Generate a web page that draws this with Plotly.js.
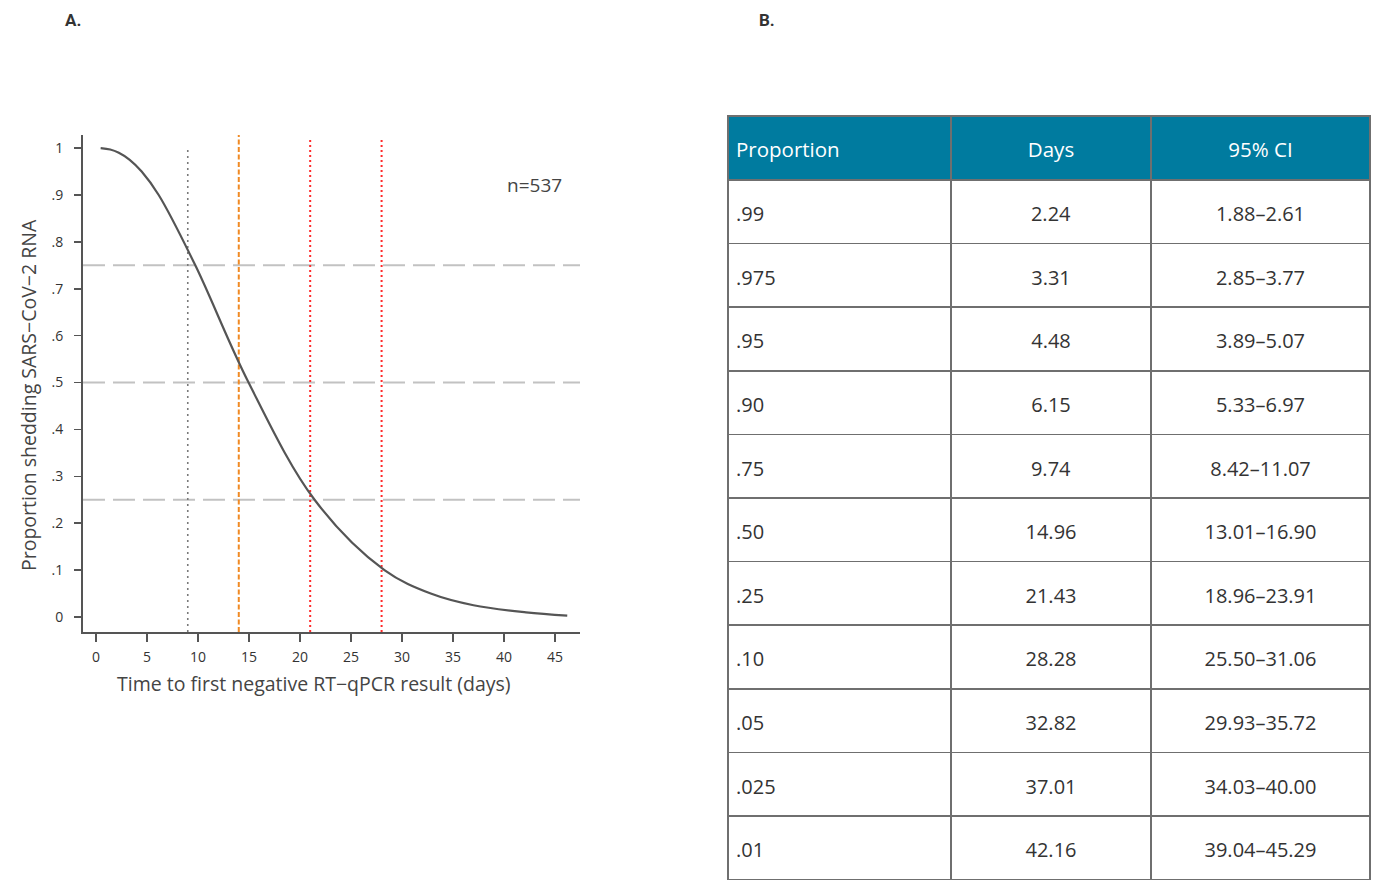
<!DOCTYPE html>
<html><head><meta charset="utf-8">
<script src="https://cdn.plot.ly/plotly-3.0.1.min.js"></script>
<style>html,body{margin:0;padding:0;background:#fff}</style>
</head><body><div id="chart" style="width:1375px;height:881px"></div>
<script>
const curveDays = [0.46, 1.4, 2.24, 3.31, 4.48, 6.15, 9.74, 14.96, 21.43, 28.28, 32.82, 37.01, 42.16, 46.2];
const curveProp = [1.0, 0.997, 0.99, 0.975, 0.95, 0.90, 0.75, 0.50, 0.25, 0.10, 0.05, 0.025, 0.01, 0.003];
// Reference lines
const refDays = [9, 14, 21, 28];
const refColors = ['#7a7a7a', '#f08a24', '#ff2a2a', '#ff2a2a'];
const refDash = ['2px,4px', '5px,2.5px', '2px,3px', '2px,3px'];
const refProps = [0.75, 0.50, 0.25];
// Axis ticks
const xTicks = [0, 5, 10, 15, 20, 25, 30, 35, 40, 45];
const yTicks = [0, 0.1, 0.2, 0.3, 0.4, 0.5, 0.6, 0.7, 0.8, 0.9, 1];
const yTickText = ['0', '.1', '.2', '.3', '.4', '.5', '.6', '.7', '.8', '.9', '1'];
// Table
const tableHeader = ['Proportion', 'Days', '95% CI'];
const tableProportion = ['.99', '.975', '.95', '.90', '.75', '.50', '.25', '.10', '.05', '.025', '.01'];
const tableDays = ['2.24', '3.31', '4.48', '6.15', '9.74', '14.96', '21.43', '28.28', '32.82', '37.01', '42.16'];
const tableCI = ['1.88–2.61', '2.85–3.77', '3.89–5.07', '5.33–6.97', '8.42–11.07', '13.01–16.90', '18.96–23.91', '25.50–31.06', '29.93–35.72', '34.03–40.00', '39.04–45.29'];

const FONT = 'Open Sans, Noto Sans, sans-serif';
// push text down by one invisible line to mimic vertical centring
const pad = (v, sz) => '&nbsp;<br><span style="font-size:' + sz + 'px">' + v + '</span>';

const shapes = [];
refProps.forEach(p => shapes.push({
  type: 'line', xref: 'x domain', yref: 'y', x0: 0, x1: 1, y0: p, y1: p,
  line: {color: '#c2c2c2', width: 2, dash: '22px,8px'}, layer: 'below'
}));
refDays.forEach((d, i) => shapes.push({
  type: 'line', xref: 'x', yref: 'y domain', x0: d, x1: d, y0: 0, y1: i === 0 ? 0.9755 : (i === 1 ? 1 : 0.994),
  line: {color: refColors[i], width: i === 0 ? 1.6 : 2, dash: refDash[i]}, layer: 'below'
}));

const traces = [
  {
    type: 'scatter', mode: 'lines', x: curveDays, y: curveProp,
    line: {color: '#555555', width: 2.2, shape: 'spline', smoothing: 1.0},
    xaxis: 'x', yaxis: 'y', hoverinfo: 'skip', showlegend: false
  },
  {
    type: 'table',
    domain: {x: [728/1375, 1370/1375], y: [0, 1 - 116/881]},
    columnwidth: [223, 200, 219],
    header: {
      values: tableHeader.map(v => pad(v, 20.5)),
      align: ['left', 'center', 'center'],
      fill: {color: '#007b9f'},
      line: {color: '#6f6f6f', width: 1.5},
      font: {family: FONT, size: 14, color: '#ffffff'},
      height: 64
    },
    cells: {
      values: [tableProportion.map(v => pad(v, 20)), tableDays.map(v => pad(v, 20)), tableCI.map(v => pad(v, 20))],
      align: ['left', 'center', 'center'],
      fill: {color: '#ffffff'},
      line: {color: '#6f6f6f', width: 1.5},
      font: {family: FONT, size: 14, color: '#333333'},
      height: 63.6
    }
  }
];

const layout = {
  width: 1375, height: 881,
  margin: {l: 0, r: 0, t: 0, b: 0},
  paper_bgcolor: '#ffffff', plot_bgcolor: '#ffffff',
  showlegend: false,
  xaxis: {
    domain: [83/1375, 580/1375], range: [-1.27, 47.45],
    tickvals: xTicks, ticks: 'outside', ticklen: 8, tickwidth: 1.5, tickcolor: '#555',
    showline: true, linecolor: '#555', linewidth: 2, showgrid: false, zeroline: false,
    tickfont: {family: FONT, size: 14, color: '#333'}, ticklabelstandoff: 3
  },
  yaxis: {
    domain: [1 - 632/881, 1 - 135/881], range: [-0.032, 1.028],
    tickvals: yTicks, ticktext: yTickText, ticks: 'outside', ticklen: 7, tickwidth: 1.5, tickcolor: '#555',
    showline: true, linecolor: '#555', linewidth: 2, showgrid: false, zeroline: false,
    tickfont: {family: FONT, size: 14, color: '#333'}, ticklabelstandoff: 8
  },
  shapes: shapes,
  annotations: [
    {text: '<b>A.</b>', xref: 'paper', yref: 'paper', x: 73/1375, y: 1 - 20/881, xanchor: 'center', yanchor: 'middle',
     showarrow: false, font: {family: 'Roboto, sans-serif', size: 17, color: '#333'}},
    {text: '<b>B.</b>', xref: 'paper', yref: 'paper', x: 767/1375, y: 1 - 20/881, xanchor: 'center', yanchor: 'middle',
     showarrow: false, font: {family: 'Roboto, sans-serif', size: 17, color: '#333'}},
    {text: 'n=537', xref: 'x', yref: 'y', x: 43, y: 0.921, xanchor: 'center', yanchor: 'middle', showarrow: false,
     font: {family: FONT, size: 19, color: '#444'}},
    {text: 'Proportion shedding SARS−CoV−2 RNA', xref: 'paper', yref: 'paper', x: 28/1375, y: 1 - 395/881,
     xanchor: 'center', yanchor: 'middle',
     textangle: -90, showarrow: false, font: {family: FONT, size: 19.5, color: '#444'}},
    {text: 'Time to first negative RT−qPCR result (days)', xref: 'paper', yref: 'paper', x: 314/1375, y: 1 - 683/881,
     xanchor: 'center', yanchor: 'middle',
     showarrow: false, font: {family: FONT, size: 19.5, color: '#444'}}
  ]
};

Plotly.newPlot('chart', traces, layout, {displayModeBar: false, staticPlot: true});
</script>
</body></html>
